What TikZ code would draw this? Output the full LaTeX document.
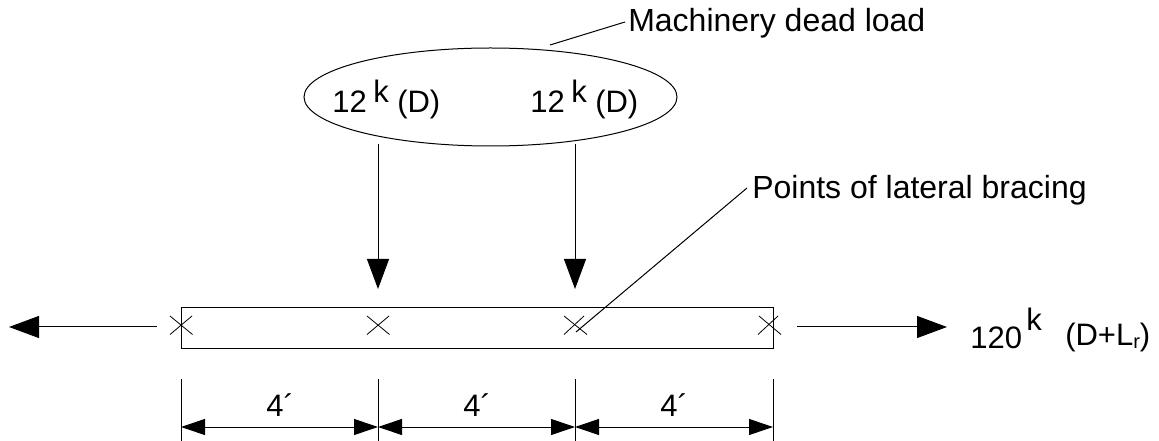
\documentclass[tikz,border=0pt]{standalone}
\usepackage{fontspec}
\setmainfont{Liberation Sans}
\usetikzlibrary{arrows.meta,shapes.geometric}
\tikzset{
  x=0.75pt,y=-0.75pt,
  ln/.style={line width=0.75pt,black},
  bigarrow/.style={ln,-{Triangle[length=22.5pt,width=16.5pt]}},
  dimarrow/.style={ln,{Triangle[length=18pt,width=12pt]}-{Triangle[length=18pt,width=12pt]}},
  lab/.style={anchor=base west,inner sep=0pt,font=\fontsize{23.25}{26}\selectfont},
  leaderlab/.style={anchor=base west,inner sep=0pt,font=\fontsize{24}{26}\selectfont},
  dimlab/.style={anchor=base west,inner sep=0pt,font=\fontsize{23.25}{26}\selectfont},
  xmark/.style={ln,line width=0.6pt},
}
\begin{document}
\begin{tikzpicture}
\useasboundingbox (0,0) rectangle (1159,441);
\fill[white] (0,0) rectangle (1159,441);
% beam and group ellipse
\node[draw,ln,rectangle,minimum width=444pt,minimum height=30pt,inner sep=0pt] (beam) at (477,328) {};
\node[draw,ln,ellipse,minimum width=279.75pt,minimum height=73.5pt,inner sep=0pt] (group) at (490.5,97) {};
% texts
\node[leaderlab] (machlab) at (628,32) {Machinery dead load};
\node[leaderlab] (pointslab) at (752,199) {Points of lateral bracing};
\node[lab] (a1) at (332,113) {12};
\node[lab] (k1) at (373,103) {k};
\node[lab] (d1) at (397,113) {(D)};
\node[lab] (a2) at (530,113) {12};
\node[lab] (k2) at (571,103) {k};
\node[lab] (d2) at (595,113) {(D)};
\node[lab] (t120) at (970,349) {120};
\node[lab] (tk) at (1026,330) {k};
\node[lab] (tdl) at (1065,345) {(D+L\raisebox{-0.12em}{\fontsize{15}{15}\selectfont r})};
\node[dimlab] (f1) at (266,416) {4´};
\node[dimlab] (f2) at (463,416) {4´};
\node[dimlab] (f3) at (660,416) {4´};
% coordinates
\coordinate (mA) at (550,45);
\coordinate (mB) at (625,22);
\coordinate (pA) at (747,188);
\coordinate (pB) at (576,332);
\coordinate (l1a) at (378,144);
\coordinate (l1b) at (378,289);
\coordinate (l2a) at (575,144);
\coordinate (l2b) at (575,289);
\coordinate (ta) at (157,327);
\coordinate (tb) at (9,327);
\coordinate (ua) at (797,327);
\coordinate (ub) at (947,327);
\foreach \n/\x in {e1/181,e2/378,e3/575,e4/773}{
  \coordinate (\n t) at (\x,379);
  \coordinate (\n b) at (\x,441);
  \coordinate (\n d) at (\x,427);
  \draw[ln] (\n t) -- (\n b);
}
% leaders
\draw[ln] (mA) -- (mB);
\draw[ln] (pA) -- (pB);
% arrows
\draw[bigarrow] (l1a) -- (l1b);
\draw[bigarrow] (l2a) -- (l2b);
\draw[bigarrow] (ta) -- (tb);
\draw[bigarrow] (ua) -- (ub);
% dimension arrows
\draw[dimarrow] (e1d) -- (e2d);
\draw[dimarrow] (e2d) -- (e3d);
\draw[dimarrow] (e3d) -- (e4d);
% bracing marks
\draw[xmark] (170,316) -- (192.5,334.5);
\draw[xmark] (170,334.5) -- (192,316);
\draw[xmark] (367,316) -- (389.5,334.5);
\draw[xmark] (367,334.5) -- (389,316);
\draw[xmark] (564,316) -- (587,334.5);
\draw[xmark] (564,334.5) -- (584,316);
\draw[xmark] (759,316) -- (781,334.5);
\draw[xmark] (758,334.5) -- (778,316);
\end{tikzpicture}
\end{document}
